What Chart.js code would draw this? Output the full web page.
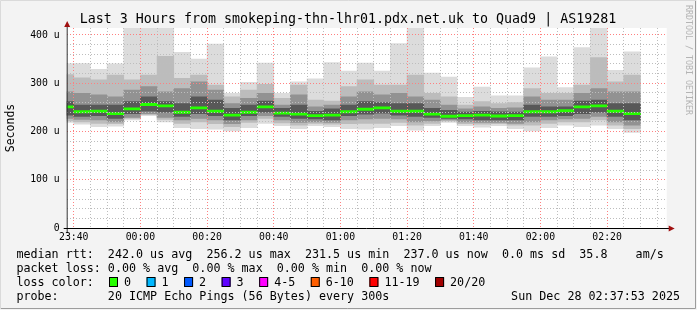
<!DOCTYPE html>
<html lang="en">
<head>
<meta charset="UTF-8">
<title>Smokeping - Quad9</title>
<script src="https://cdn.jsdelivr.net/npm/chart.js"></script>
<style>
  html, body { margin: 0; padding: 0; background: #f3f3f3; }
  #wrap { position: relative; width: 697px; height: 310px; }
</style>
</head>
<body>
<div id="wrap"><canvas id="smoke"></canvas></div>
<script>
// 5 minute steps, each value is the end of its step (first one is cut by the graph start)
const times = ['23:40','23:45','23:50','23:55','00:00','00:05','00:10','00:15','00:20','00:25',
               '00:30','00:35','00:40','00:45','00:50','00:55','01:00','01:05','01:10','01:15',
               '01:20','01:25','01:30','01:35','01:40','01:45','01:50','01:55','02:00','02:05',
               '02:10','02:15','02:20','02:25','02:30'];

// microseconds
const median = [251,241,242,237,247,256,253,240,249,242,234,240,251,238,236,233,234,241,246,249,
                242,242,236,231.5,233,234,232,233,241,241,243,251,253,242,237];
const rttMax = [341,341,329,340,430,430,430,364,350,381,279,302,342,279,303,309,343,325,342,325,
                382,430,321,313,271,292,274,274,332,355,291,374,430,327,365];
const rttMin = [219,215,210,211,224,233,220,208,206,205,201,208,217,212,206,212,210,206,205,208,
                212,203,212,219,212,209,212,206,201,208,213,210,213,206,198];
// inner smoke bands (upper / lower edge of each shade)
const hi2 = [318,311,307,317,307,317,356,310,317,296,272,286,298,269,296,265,263,293,307,296,
             296,317,279,272,255,262,258,260,289,279,279,296,353,303,317];
const lo2 = [222,220,217,216,227,235,225,217,220,216,210,219,227,218,213,217,215,216,217,217,
             219,213,217,222,216,215,216,213,213,217,220,220,224,213,206];
const hi3 = [282,279,276,272,286,293,282,289,303,286,258,269,279,255,276,251,255,272,282,276,
             279,272,265,255,247,251,248,249,272,265,265,279,289,282,282];
const lo3 = [227,225,224,220,229,237,229,224,227,224,216,224,233,224,219,220,219,224,226,227,
             226,220,222,224,220,219,219,217,220,224,226,227,231,220,213];
const hi4 = [262,255,255,255,262,272,262,258,272,265,248,255,263,248,255,242,247,255,262,260,
             258,258,248,244,240,242,241,240,255,251,251,263,265,258,258];
const lo4 = [234,231,233,227,237,242,240,231,237,233,224,233,240,231,227,226,224,233,236,238,
             234,231,229,227,226,224,224,224,231,231,233,237,240,231,224];

const yTickStep = 20;
const yMax = 414.5;
const graphStart = '23:37:53';

const title = 'Last 3 Hours from smokeping-thn-lhr01.pdx.net.uk to Quad9 | AS19281';
const legendLines = [
  'median rtt:  242.0 us avg  256.2 us max  231.5 us min  237.0 us now  0.0 ms sd  35.8    am/s',
  'packet loss: 0.00 % avg  0.00 % max  0.00 % min  0.00 % now',
  'loss color:',
  'probe:       20 ICMP Echo Pings (56 Bytes) every 300s'
];
const lossLabels = ['0', '1', '2', '3', '4-5', '6-10', '11-19', '20/20'];
const lossColors = ['#26ff00', '#00b8ff', '#0059ff', '#5e00ff', '#ff00ff', '#ff5e00', '#ff0000', '#a10000'];
const stamp = 'Sun Dec 28 02:37:53 2025';

// minutes counted from 23:00
function toMin(t) {
  const p = t.split(':').map(Number);
  return ((p[0] - 23 + 24) % 24) * 60 + p[1] + (p[2] || 0) / 60;
}
function fmtMin(v) {
  const h = (23 + Math.floor(v / 60)) % 24;
  const m = v % 60;
  return String(h).padStart(2, '0') + ':' + String(m).padStart(2, '0');
}

const xMin = toMin(graphStart);
const xMax = xMin + 180;
const mono = '"DejaVu Sans Mono", "Liberation Mono", monospace';

function band(lo, hi) {
  return times.map((t, i) => ({ x: toMin(t) - 2.5, y: [lo[i], hi[i]] }));
}

const shades = [
  { lo: rttMin, hi: rttMax, color: '#dcdcdc' },
  { lo: lo2, hi: hi2, color: '#bcbcbc' },
  { lo: lo3, hi: hi3, color: '#929292' },
  { lo: lo4, hi: hi4, color: '#585858' }
];

const datasets = shades.map((s, i) => ({
  label: 'smoke' + i,
  data: band(s.lo, s.hi),
  backgroundColor: s.color,
  order: 10 - i
}));
datasets.push({
  label: 'median',
  data: times.map((t, i) => ({ x: toMin(t) - 2.5, y: [median[i] - 2.3, median[i] + 2.3] })),
  backgroundColor: lossColors[0],
  order: 0
});

const rrdLook = {
  id: 'rrdLook',
  beforeDraw(chart) {
    const { ctx, chartArea: a } = chart;
    ctx.save();
    ctx.fillStyle = '#f3f3f3';
    ctx.fillRect(0, 0, chart.width, chart.height);
    ctx.fillStyle = '#ffffff';
    ctx.fillRect(a.left, a.top, a.right - a.left, a.bottom - a.top);
    ctx.restore();
  },
  afterDraw(chart) {
    const { ctx, chartArea: a } = chart;
    ctx.save();

    // axes with arrows
    ctx.lineWidth = 1;
    ctx.strokeStyle = '#333';
    ctx.beginPath();
    ctx.moveTo(a.left + 0.5, a.bottom + 4);
    ctx.lineTo(a.left + 0.5, a.top - 4);
    ctx.stroke();
    ctx.strokeStyle = '#000';
    ctx.beginPath();
    ctx.moveTo(a.left - 3, a.bottom + 0.5);
    ctx.lineTo(a.right + 3, a.bottom + 0.5);
    ctx.stroke();
    ctx.fillStyle = '#a01010';
    ctx.beginPath();
    ctx.moveTo(a.left + 0.5, a.top - 7);
    ctx.lineTo(a.left - 2.5, a.top - 1);
    ctx.lineTo(a.left + 3.5, a.top - 1);
    ctx.fill();
    ctx.beginPath();
    ctx.moveTo(a.right + 8, a.bottom + 0.5);
    ctx.lineTo(a.right + 2, a.bottom - 2.5);
    ctx.lineTo(a.right + 2, a.bottom + 3.5);
    ctx.fill();

    // title
    ctx.fillStyle = '#000';
    ctx.font = '13.3px ' + mono;
    ctx.textAlign = 'center';
    ctx.textBaseline = 'alphabetic';
    ctx.fillText(title, 348, 23);

    // y axis title
    ctx.save();
    ctx.translate(11, 128);
    ctx.rotate(-Math.PI / 2);
    ctx.font = '11.5px ' + mono;
    ctx.textBaseline = 'middle';
    ctx.fillText('Seconds', 0, 0);
    ctx.restore();

    // watermark
    ctx.save();
    ctx.translate(688, 5);
    ctx.rotate(Math.PI / 2);
    ctx.font = '8.3px ' + mono;
    ctx.fillStyle = '#b4b4b4';
    ctx.textAlign = 'left';
    ctx.textBaseline = 'middle';
    ctx.fillText('RRDTOOL / TOBI OETIKER', 0, 0);
    ctx.restore();

    // legend block
    ctx.font = '11.7px ' + mono;
    ctx.textAlign = 'left';
    const base = [258, 272, 286, 299.5];
    legendLines.forEach((l, i) => ctx.fillText(l, 16.4, base[i]));
    let x = 109;
    lossLabels.forEach((lab, i) => {
      ctx.fillStyle = lossColors[i];
      ctx.fillRect(x, 277.5, 9, 9);
      ctx.strokeStyle = '#000';
      ctx.strokeRect(x + 0.5, 277.5, 8, 9);
      ctx.fillStyle = '#000';
      ctx.fillText(lab, x + 15, base[2]);
      x += 15 + ctx.measureText(lab).width + 15.5;
    });
    ctx.textAlign = 'right';
    ctx.fillText(stamp, 680, base[3]);

    // frame
    ctx.strokeStyle = '#9c9c9c';
    ctx.beginPath();
    ctx.moveTo(695.5, 0); ctx.lineTo(695.5, 308.5); ctx.lineTo(0, 308.5);
    ctx.stroke();
    ctx.strokeStyle = '#dadada';
    ctx.beginPath();
    ctx.moveTo(0.5, 309); ctx.lineTo(0.5, 0.5); ctx.lineTo(696, 0.5);
    ctx.stroke();
    ctx.restore();
  }
};

new Chart(document.getElementById('smoke'), {
  type: 'bar',
  data: { datasets },
  options: {
    responsive: true,
    maintainAspectRatio: false,
    animation: false,
    grouped: false,
    barPercentage: 1,
    categoryPercentage: 1,
    borderWidth: 0,
    layout: { padding: { left: 0, top: 28, right: 30.3, bottom: 62 } },
    plugins: { legend: { display: false }, tooltip: { enabled: false } },
    scales: {
      x: {
        type: 'linear',
        min: xMin,
        max: xMax,
        offset: false,
        afterFit: (s) => { s.height = 20; },
        // grid every 5 minutes, labels every 20
        afterBuildTicks: (s) => {
          const t = [];
          for (let v = Math.ceil(xMin / 5) * 5; v < xMax; v += 5) t.push({ value: v });
          s.ticks = t;
        },
        border: { display: false, dash: [1, 2] },
        grid: {
          z: 1,
          offset: false,
          drawTicks: false,
          color: (c) => (c.tick && c.tick.value % 20 === 0 ? '#ff8080' : '#bdbdbd')
        },
        ticks: {
          autoSkip: false,
          maxRotation: 0,
          padding: 4,
          color: '#000',
          font: { family: mono, size: 9.8 },
          callback: (v) => (v % 20 === 0 ? fmtMin(v) : '')
        }
      },
      y: {
        min: 0,
        max: yMax,
        afterFit: (s) => { s.width = 66.7; },
        border: { display: false, dash: [1, 2] },
        grid: {
          z: 1,
          drawTicks: false,
          color: (c) => (c.tick && c.tick.value % 100 === 0 ? '#ff8080' : '#bdbdbd')
        },
        ticks: {
          stepSize: yTickStep,
          includeBounds: false,
          autoSkip: false,
          padding: 7,
          color: '#000',
          font: { family: mono, size: 9.8 },
          callback: (v) => (v % 100 === 0 ? (v === 0 ? '0' : v + ' u') : '')
        }
      }
    }
  },
  plugins: [rrdLook]
});
</script>
</body>
</html>
